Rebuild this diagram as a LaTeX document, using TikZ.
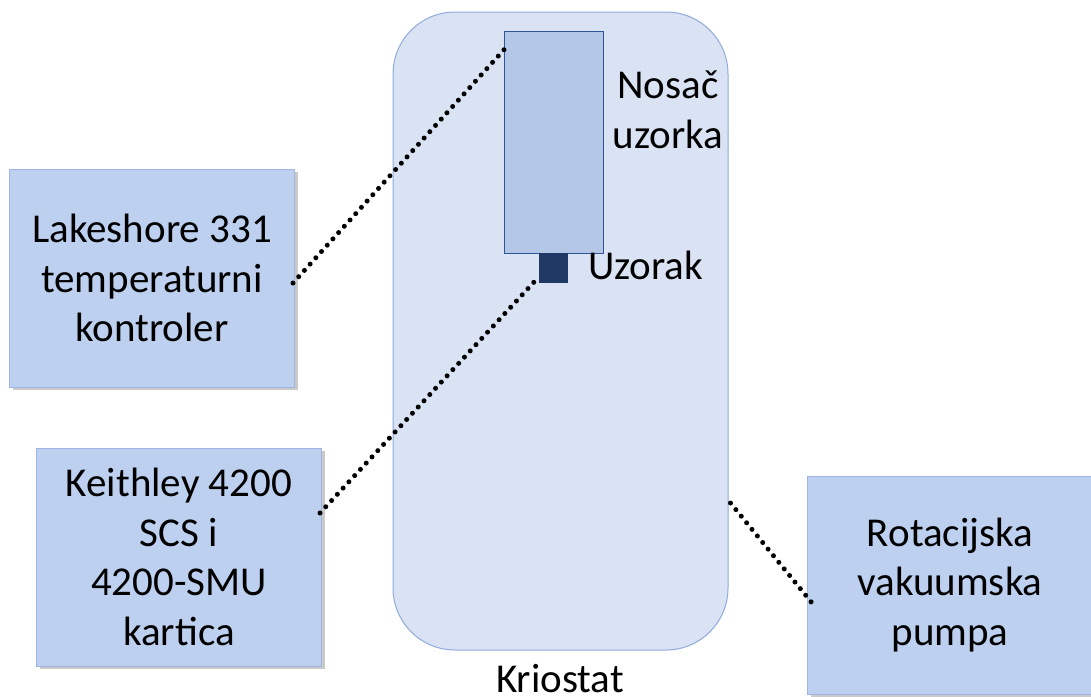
\documentclass[tikz,border=0pt]{standalone}
\usepackage{fontspec}
\setmainfont{Carlito}
\usetikzlibrary{shadows,calc}
\definecolor{boxfill}{HTML}{BDD0EF}
\definecolor{boxline}{HTML}{9DB5E0}
\definecolor{kriofill}{HTML}{DAE3F3}
\definecolor{krioline}{HTML}{8FAADC}
\definecolor{nosfill}{HTML}{B4C7E7}
\definecolor{nosline}{HTML}{2F5597}
\definecolor{uzfill}{HTML}{203864}
\tikzset{
  outbox/.style={draw=boxline, fill=boxfill, line width=1pt, minimum width=285pt, minimum height=218pt,
    align=center, inner sep=0pt, font=\fontsize{41}{49.5}\selectfont,
    drop shadow={shadow xshift=3pt, shadow yshift=-3pt, opacity=0.35, fill=black!60}},
  kriobox/.style={draw=krioline, fill=kriofill, line width=1pt, minimum width=335pt, minimum height=638pt,
    rounded corners=62pt, inner sep=0pt},
  nosbox/.style={draw=nosline, fill=nosfill, line width=0.8pt, minimum width=99pt, minimum height=222pt, inner sep=0pt},
  uzbox/.style={fill=uzfill, minimum width=29pt, minimum height=30pt, inner sep=0pt},
  lbl/.style={font=\fontsize{41}{50}\selectfont, align=center, inner sep=0pt},
  dotline/.style={line width=5pt, line cap=round, dash pattern=on 0pt off 8.5pt}
}
\begin{document}
\begin{tikzpicture}[x=1pt,y=-1pt]
\useasboundingbox (0,0) rectangle (1091,696);
\node[kriobox] (krio) at (560.5,331) {};
\node[nosbox] (nosac) at (554,142) {};
\node[uzbox] (uzorak) at (553.5,268) {};
\node[outbox] (lake) at (152,278) {Lakeshore 331\\temperaturni\\kontroler};
\node[outbox] (keith) at (179,557) {Keithley 4200\\SCS i\\4200-SMU\\kartica};
\node[outbox] (rot) at (950,585) {Rotacijska\\vakuumska\\pumpa};
\node[lbl] (noslbl) at (668,110) {Nosač\\uzorka};
\node[lbl, anchor=base west] (uzlbl) at (588,279) {Uzorak};
\node[lbl, anchor=base] (krlbl) at (560,692) {Kriostat};
\draw[dotline] ($(lake.east)+(-2,5)$) -- ($(nosac.north west)+(0,19)$);
\draw[dotline] ($(keith.east)+(-2,-44)$) -- ($(uzorak.south west)+(-4,-2)$);
\draw[dotline] ($(krio.east)+(2,172)$) -- ($(rot.west)+(5,18)$);
\end{tikzpicture}
\end{document}
